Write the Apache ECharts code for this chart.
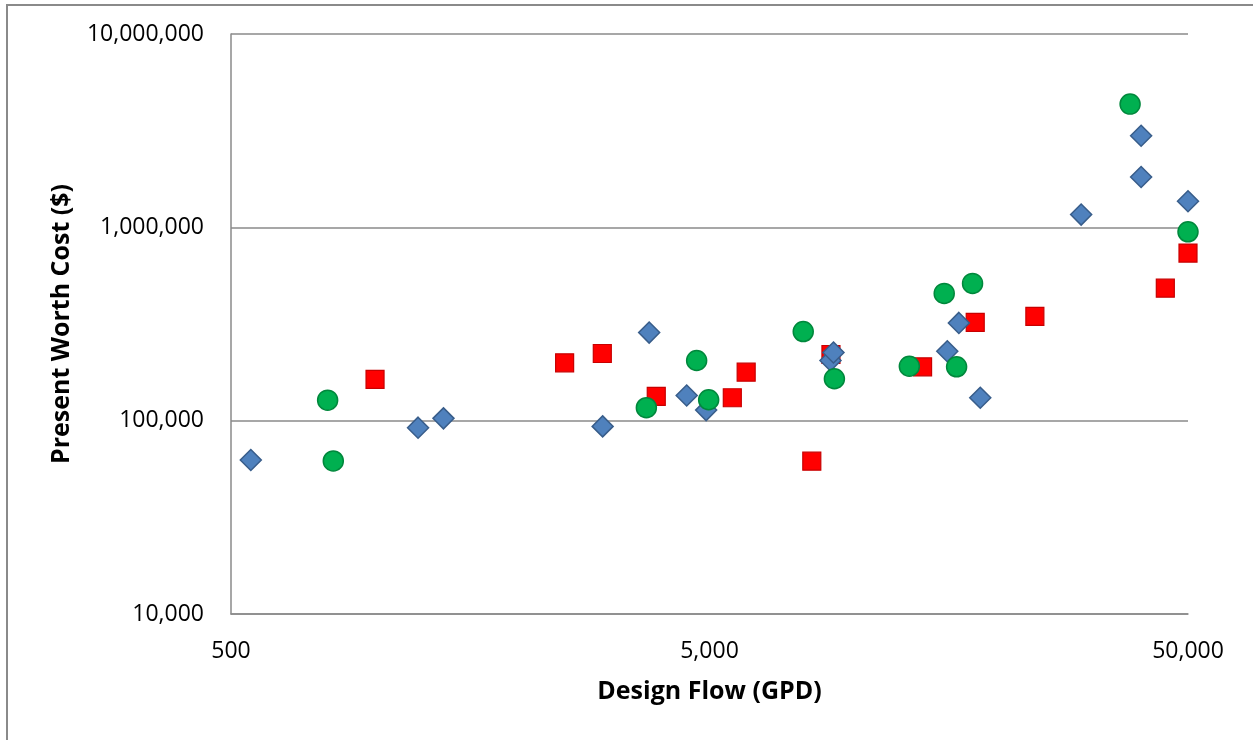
<!DOCTYPE html>
<html>
<head>
<meta charset="utf-8">
<script src="https://cdn.jsdelivr.net/npm/echarts@6/dist/echarts.min.js"></script>
<style>
  html, body { margin: 0; padding: 0; background: #fff; }
  #chart { width: 1253px; height: 740px; }
</style>
</head>
<body>
<div id="chart"></div>
<script>
// ---- data ----
const xTickLabels = ['500', '5,000', '50,000'];

const blueX = [550, 1230, 1390, 2990, 3740, 4480, 4920, 8950, 9080, 15700, 16600, 18400, 29900, 39900, 39900, 50000];
const blueY = [62600, 92000, 102800, 93400, 285500, 135000, 113400, 204700, 225100, 228700, 320300, 131400, 1164000, 2976000, 1822000, 1365000];

const greenX = [796, 818, 3690, 4700, 4980, 7850, 9120, 13080, 15470, 16420, 17730, 37840, 50000];
const greenY = [127700, 61900, 116700, 204700, 128300, 289000, 164700, 191200, 455300, 189900, 512900, 4339000, 948000];

const redX = [1000, 2490, 2985, 3870, 5580, 5965, 8180, 8970, 13940, 17960, 23930, 44830, 50000];
const redY = [163400, 199200, 222500, 133500, 131400, 178100, 61700, 219900, 189900, 322700, 346500, 484400, 736000];

const xMin = 500, xMax = 50000;
const yMin = 10000, yMax = 10000000;

function pairs(xs, ys) { return xs.map((x, i) => [x, ys[i]]); }

const FONT = '"Open Sans", "Noto Sans", sans-serif';
const AXIS_GRAY = '#8a8a8a';

const chart = echarts.init(document.getElementById('chart'), null, { renderer: 'canvas' });
chart.setOption({
  backgroundColor: '#ffffff',
  animation: false,
  textStyle: { fontFamily: FONT },
  graphic: [{
    type: 'rect',
    silent: true,
    shape: { x: 7, y: 5, width: 2000, height: 2000 },
    style: { fill: 'none', stroke: AXIS_GRAY, lineWidth: 2 }
  }],
  grid: { left: 231, right: 65, top: 34, bottom: 126, containLabel: false },
  xAxis: [{
    type: 'log',
    logBase: 10,
    min: xMin,
    max: xMax,
    axisLine: { show: true, lineStyle: { color: AXIS_GRAY, width: 1.5 } },
    axisTick: { show: false },
    axisLabel: { show: false },
    splitLine: { show: false },
    name: 'Design Flow (GPD)',
    nameLocation: 'middle',
    nameGap: 65,
    nameTextStyle: { fontFamily: FONT, fontSize: 25, fontWeight: 'bold', color: '#000' }
  }, {
    type: 'category',
    data: xTickLabels,
    boundaryGap: false,
    position: 'bottom',
    axisLine: { show: false },
    axisTick: { show: false },
    splitLine: { show: false },
    axisLabel: { show: true, interval: 0, margin: 26, fontFamily: FONT, fontSize: 23, color: '#000' }
  }],
  yAxis: {
    type: 'log',
    logBase: 10,
    min: yMin,
    max: yMax,
    axisLine: { show: true, lineStyle: { color: AXIS_GRAY, width: 1.5 } },
    axisTick: { show: false },
    splitLine: { show: true, lineStyle: { color: AXIS_GRAY, width: 1.5 } },
    axisLabel: {
      margin: 27,
      fontFamily: FONT,
      fontSize: 23,
      color: '#000',
      formatter: v => Math.round(v).toLocaleString('en-US')
    },
    name: 'Present Worth Cost ($)',
    nameLocation: 'middle',
    nameGap: 157,
    nameRotate: 90,
    nameTextStyle: { fontFamily: FONT, fontSize: 25, fontWeight: 'bold', color: '#000' }
  },
  series: [{
    type: 'scatter',
    xAxisIndex: 0,
    clip: false,
    symbol: 'rect',
    symbolSize: 18,
    itemStyle: { color: '#FF0000', borderColor: '#C80000', borderWidth: 1.2, opacity: 1 },
    data: pairs(redX, redY)
  }, {
    type: 'scatter',
    xAxisIndex: 0,
    clip: false,
    symbol: 'diamond',
    symbolSize: 21,
    itemStyle: { color: '#4F81BD', borderColor: '#385D8A', borderWidth: 1.5, opacity: 1 },
    data: pairs(blueX, blueY)
  }, {
    type: 'scatter',
    xAxisIndex: 0,
    clip: false,
    symbol: 'circle',
    symbolSize: 20,
    itemStyle: { color: '#00B050', borderColor: '#00883C', borderWidth: 1.5, opacity: 1 },
    data: pairs(greenX, greenY)
  }]
});
</script>
</body>
</html>
